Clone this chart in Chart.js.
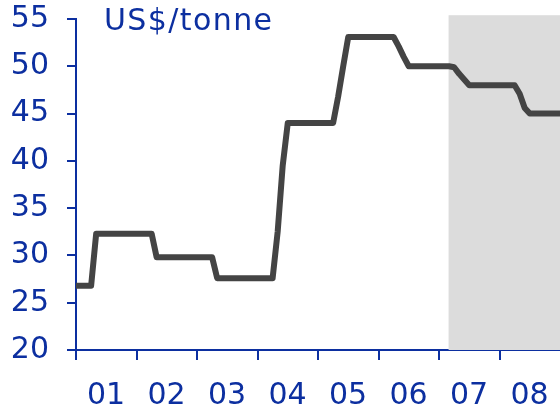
<!DOCTYPE html>
<html>
<head>
<meta charset="utf-8">
<script src="https://cdn.jsdelivr.net/npm/chart.js@4/dist/chart.umd.min.js"></script>
<style>
  html, body { margin: 0; padding: 0; background: #fff; }
  canvas { display: block; }
</style>
</head>
<body>
<canvas id="c" width="560" height="414"></canvas>
<script>
// Year labels shown under the x axis (one per 12 months)
const years = ['01', '02', '03', '04', '05', '06', '07', '08'];

// Monthly price, US$/tonne, Jan 2001 (month 0) onwards
const price = [
  26.8, 26.8, 26.8, 26.8,
  32.3, 32.3, 32.3, 32.3, 32.3, 32.3, 32.3, 32.3, 32.3, 32.3, 32.3, 32.3,
  29.8, 29.8, 29.8, 29.8, 29.8, 29.8, 29.8, 29.8, 29.8, 29.8, 29.8, 29.8,
  27.6, 27.6, 27.6, 27.6, 27.6, 27.6, 27.6, 27.6, 27.6, 27.6, 27.6, 27.6,
  32.5, 39.5,
  44.0, 44.0, 44.0, 44.0, 44.0, 44.0, 44.0, 44.0, 44.0, 44.0,
  46.8, 50.0,
  53.1, 53.1, 53.1, 53.1, 53.1, 53.1, 53.1, 53.1, 53.1, 53.1,
  52.1, 51.0,
  50.0, 50.0, 50.0, 50.0, 50.0, 50.0, 50.0, 50.0, 50.0,
  49.9, 49.2, 48.6, 48.0,
  48.0, 48.0, 48.0, 48.0, 48.0, 48.0, 48.0, 48.0,
  48.0, 47.1, 45.6,
  45.0, 45.0, 45.0, 45.0, 45.0, 45.0, 45.0
];

// Forecast period (shaded), in months from Jan 2001
const forecastStart = 73.9;
const forecastTop = 55.4;

const BLUE = '#0c2fa0';
const FONT = 'DejaVu Sans';

const points = price.map((v, i) => ({ x: i, y: v }));

const forecastShade = {
  id: 'forecastShade',
  beforeDatasetsDraw(chart) {
    const { ctx, chartArea, scales } = chart;
    const x0 = scales.x.getPixelForValue(forecastStart);
    const yTop = scales.y.getPixelForValue(forecastTop);
    ctx.save();
    ctx.fillStyle = '#dcdcdc';
    ctx.fillRect(x0, yTop, chartArea.right - x0, chartArea.bottom - yTop);
    ctx.restore();
  }
};

const unitLabel = {
  id: 'unitLabel',
  afterDraw(chart) {
    const { ctx, chartArea } = chart;
    ctx.save();
    ctx.fillStyle = BLUE;
    ctx.font = '30px "' + FONT + '"';
    ctx.letterSpacing = '1.4px';
    ctx.textBaseline = 'alphabetic';
    ctx.textAlign = 'left';
    ctx.fillText('US$/tonne', chartArea.left + 28, 29.5);
    ctx.restore();
  }
};

new Chart(document.getElementById('c'), {
  type: 'line',
  data: {
    datasets: [{
      data: points,
      borderColor: '#444444',
      borderWidth: 6,
      borderJoinStyle: 'round',
      pointRadius: 0,
      tension: 0,
      fill: false
    }]
  },
  options: {
    responsive: false,
    animation: false,
    devicePixelRatio: 1,
    layout: { padding: { left: 0, right: 0, top: 19, bottom: 0 } },
    plugins: { legend: { display: false }, tooltip: { enabled: false } },
    scales: {
      x: {
        type: 'linear',
        min: 0,
        max: 96,
        afterBuildTicks(scale) {
          scale.ticks = years.map((_, i) => ({ value: i * 12 }));
        },
        afterFit(scale) {
          scale.paddingLeft = 0;
          scale.paddingRight = 0;
          scale.height = 64;
        },
        grid: {
          drawOnChartArea: false,
          drawTicks: true,
          tickLength: 10,
          color: BLUE,
          lineWidth: 2
        },
        border: { display: true, color: BLUE, width: 2 },
        ticks: {
          color: BLUE,
          font: { family: FONT, size: 30 },
          padding: 18,
          labelOffset: 30,
          maxRotation: 0,
          autoSkip: false,
          callback: (v) => years[Math.round(v / 12)]
        }
      },
      y: {
        min: 20,
        max: 55,
        afterFit(scale) {
          scale.paddingTop = 0;
          scale.paddingBottom = 0;
          scale.width = 76;
        },
        grid: {
          drawOnChartArea: false,
          drawTicks: true,
          tickLength: 9,
          color: BLUE,
          lineWidth: 2
        },
        border: { display: true, color: BLUE, width: 2 },
        ticks: {
          stepSize: 5,
          color: BLUE,
          font: { family: FONT, size: 30 },
          padding: 18
        }
      }
    }
  },
  plugins: [forecastShade, unitLabel]
});
</script>
</body>
</html>
